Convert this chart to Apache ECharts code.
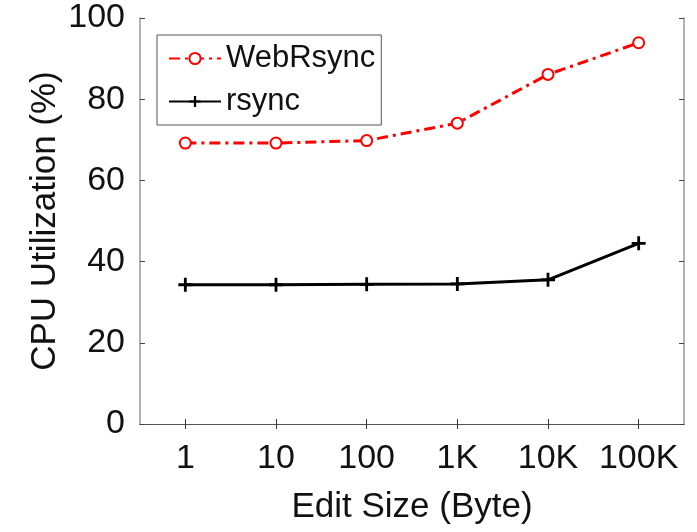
<!DOCTYPE html>
<html>
<head>
<meta charset="utf-8">
<script src="https://cdn.jsdelivr.net/npm/echarts@6/dist/echarts.min.js"></script>
<style>
html,body{margin:0;padding:0;background:#fff;}
#chart{width:697px;height:532px;}
</style>
</head>
<body>
<div id="chart"></div>
<script>
var categories = ['1', '10', '100', '1K', '10K', '100K'];
var webRsync = [69.2, 69.2, 69.8, 74.1, 86.1, 93.9];
var rsync = [34.3, 34.3, 34.4, 34.5, 35.5, 44.5];
var yTicks = [0, 20, 40, 60, 80, 100];

var FONT = '"Liberation Sans", Arial, Helvetica, sans-serif';
var plusPath = 'path://M5.2,0H7.8V5.2H13V7.8H7.8V13H5.2V7.8H0V5.2H5.2Z';

var chart = echarts.init(document.getElementById('chart'), null, {renderer: 'canvas'});
chart.setOption({
  animation: false,
  backgroundColor: '#fff',
  textStyle: {fontFamily: FONT},
  grid: {left: 140, right: 13, top: 18, bottom: 108, containLabel: false},
  legend: {
    orient: 'vertical',
    left: 157, top: 35,
    padding: [8, 6, 8, 11],
    itemWidth: 52, itemHeight: 14, itemGap: 12,
    borderColor: '#555', borderWidth: 1,
    backgroundColor: '#fff',
    textStyle: {fontSize: 31, color: '#111', fontFamily: FONT},
    data: ['WebRsync', 'rsync']
  },
  xAxis: [{
    type: 'category', data: categories, position: 'bottom', boundaryGap: true,
    axisLine: {show: true, lineStyle: {color: '#333', width: 1}},
    axisTick: {show: true, inside: true, alignWithLabel: true, interval: 0, length: 5, lineStyle: {color: '#333'}},
    axisLabel: {fontSize: 34, color: '#111', margin: 18, fontFamily: FONT, interval: 0, hideOverlap: false},
    splitLine: {show: false},
    name: 'Edit Size (Byte)', nameLocation: 'middle', nameGap: 66, nameMoveOverlap: false,
    nameTextStyle: {fontSize: 35, color: '#111', fontFamily: FONT}
  }, {
    type: 'category', data: categories, position: 'top', boundaryGap: true,
    axisLine: {show: true, lineStyle: {color: '#555', width: 1}},
    axisTick: {show: true, inside: true, alignWithLabel: true, interval: 0, length: 5, lineStyle: {color: '#333'}},
    axisLabel: {show: false}, splitLine: {show: false}
  }],
  yAxis: [{
    type: 'value', min: 0, max: 100, interval: 20, position: 'left',
    axisLine: {show: true, lineStyle: {color: '#999', width: 1.5}},
    axisTick: {show: true, inside: true, length: 5, lineStyle: {color: '#444'}},
    axisLabel: {fontSize: 34, color: '#111', margin: 15, fontFamily: FONT,
      formatter: function (v) { return yTicks.indexOf(v) >= 0 ? String(v) : ''; }},
    splitLine: {show: false},
    name: 'CPU Utilization (%)', nameLocation: 'middle', nameGap: 77, nameMoveOverlap: false,
    nameTextStyle: {fontSize: 35, color: '#111', fontFamily: FONT}
  }, {
    type: 'value', min: 0, max: 100, interval: 20, position: 'right',
    axisLine: {show: true, lineStyle: {color: '#999', width: 1.5}},
    axisTick: {show: true, inside: true, length: 5, lineStyle: {color: '#444'}},
    axisLabel: {show: false}, splitLine: {show: false}
  }],
  series: [{
    name: 'WebRsync', type: 'line', data: webRsync,
    xAxisIndex: 0, yAxisIndex: 0,
    symbol: 'emptyCircle', symbolSize: 11,
    lineStyle: {color: '#ff0000', width: 3, type: [11, 5, 3, 5]},
    itemStyle: {color: '#ff0000', borderColor: '#ff0000', borderWidth: 3.5}
  }, {
    name: 'rsync', type: 'line', data: rsync,
    xAxisIndex: 0, yAxisIndex: 0,
    symbol: plusPath, symbolSize: 14,
    lineStyle: {color: '#000', width: 3},
    itemStyle: {color: '#000'}
  }]
});
</script>
</body>
</html>
